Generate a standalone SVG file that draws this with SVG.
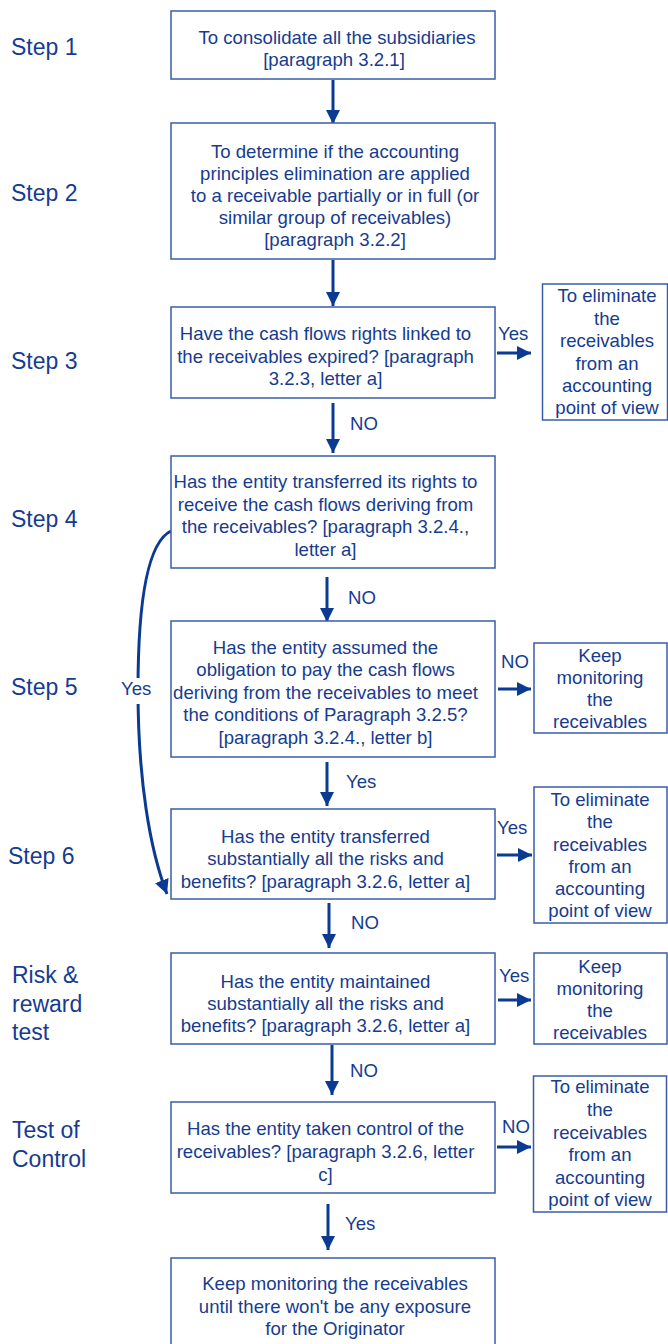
<svg xmlns="http://www.w3.org/2000/svg" width="668" height="1344" viewBox="0 0 668 1344">
<style>
text{font-family:"Liberation Sans",Arial,sans-serif;fill:#163c8f}
.b text,.r text{font-size:18.6px;text-anchor:middle}
.s{font-size:23px}
.l{font-size:18.6px}
rect.n{fill:#fff;stroke:#3a5ca8;stroke-width:1.5}
.c line,.c path{stroke:#0a3a92;stroke-width:3;fill:none}
</style>
<defs>
<marker id="ah" viewBox="0 0 10 10" refX="10" refY="5" markerWidth="4.8" markerHeight="4.8" orient="auto" markerUnits="strokeWidth"><path d="M0,0L10,5L0,10z" fill="#0a3a92"/></marker>
</defs>
<rect width="668" height="1344" fill="#fff"/>
<g id="labels">
<text class="s" x="11" y="55">Step 1</text>
<text class="s" x="11" y="201">Step 2</text>
<text class="s" x="11" y="369">Step 3</text>
<text class="s" x="11" y="527">Step 4</text>
<text class="s" x="11" y="695">Step 5</text>
<text class="s" x="8" y="864">Step 6</text>
<text class="s" x="12" y="983">Risk &amp;</text>
<text class="s" x="12" y="1012">reward</text>
<text class="s" x="12" y="1040">test</text>
<text class="s" x="12" y="1138">Test of</text>
<text class="s" x="12" y="1167">Control</text>
</g>
<g class="c" id="connectors">
<line x1="333" y1="80" x2="333" y2="124" marker-end="url(#ah)"/>
<line x1="333" y1="260" x2="333" y2="306" marker-end="url(#ah)"/>
<line x1="497" y1="353" x2="531" y2="353" marker-end="url(#ah)"/>
<line x1="333" y1="403" x2="333" y2="453" marker-end="url(#ah)"/>
<line x1="327" y1="577" x2="327" y2="622" marker-end="url(#ah)"/>
<line x1="498" y1="689" x2="531" y2="689" marker-end="url(#ah)"/>
<line x1="327" y1="762" x2="327" y2="806" marker-end="url(#ah)"/>
<path d="M171,531 C146,543 138,610 138,690 C138,780 150,850 167,894" marker-end="url(#ah)"/>
<line x1="497" y1="855" x2="532" y2="855" marker-end="url(#ah)"/>
<line x1="329" y1="903" x2="329" y2="948" marker-end="url(#ah)"/>
<line x1="498" y1="1000" x2="531" y2="1000" marker-end="url(#ah)"/>
<line x1="332" y1="1045" x2="332" y2="1095" marker-end="url(#ah)"/>
<line x1="497" y1="1147" x2="531" y2="1147" marker-end="url(#ah)"/>
<line x1="328" y1="1204" x2="328" y2="1250" marker-end="url(#ah)"/>
<rect x="120" y="678" width="36" height="26" fill="#fff"/>
<text class="l" x="121" y="695">Yes</text>
<text class="l" x="498" y="340">Yes</text>
<text class="l" x="350" y="430">NO</text>
<text class="l" x="348" y="604">NO</text>
<text class="l" x="501" y="668">NO</text>
<text class="l" x="346" y="788">Yes</text>
<text class="l" x="497" y="834">Yes</text>
<text class="l" x="351" y="929">NO</text>
<text class="l" x="499" y="982">Yes</text>
<text class="l" x="350" y="1077">NO</text>
<text class="l" x="502" y="1133">NO</text>
<text class="l" x="345" y="1230">Yes</text>
</g>
<g class="b" id="n1"><rect class="n" x="171" y="11" width="324" height="68"/>
<text x="337" y="43.5">To consolidate all the subsidiaries</text>
<text x="334" y="66">[paragraph 3.2.1]</text></g>
<g class="b" id="n2"><rect class="n" x="171" y="123" width="324" height="136"/>
<text x="335" y="158">To determine if the accounting</text>
<text x="335" y="180">principles elimination are applied</text>
<text x="335" y="202">to a receivable partially or in full (or</text>
<text x="335" y="224">similar group of receivables)</text>
<text x="335" y="246">[paragraph 3.2.2]</text></g>
<g class="b" id="n3"><rect class="n" x="171" y="307" width="324" height="91"/>
<text x="325.5" y="340">Have the cash flows rights linked to</text>
<text x="325.5" y="363">the receivables expired? [paragraph</text>
<text x="325.5" y="385">3.2.3, letter a]</text></g>
<g class="r" id="n3y"><rect class="n" x="542.5" y="284" width="125" height="136"/>
<text x="607" y="302">To eliminate</text>
<text x="607" y="325">the</text>
<text x="607" y="347">receivables</text>
<text x="607" y="370">from an</text>
<text x="607" y="392">accounting</text>
<text x="607" y="414">point of view</text></g>
<g class="b" id="n4"><rect class="n" x="171" y="456" width="324" height="112"/>
<text x="325.5" y="488">Has the entity transferred its rights to</text>
<text x="325.5" y="511">receive the cash flows deriving from</text>
<text x="325.5" y="533">the receivables? [paragraph 3.2.4.,</text>
<text x="325.5" y="556">letter a]</text></g>
<g class="b" id="n5"><rect class="n" x="171" y="621" width="324" height="136"/>
<text x="325.5" y="654">Has the entity assumed the</text>
<text x="325.5" y="676">obligation to pay the cash flows</text>
<text x="325.5" y="699">deriving from the receivables to meet</text>
<text x="325.5" y="721">the conditions of Paragraph 3.2.5?</text>
<text x="325.5" y="744">[paragraph 3.2.4., letter b]</text></g>
<g class="r" id="n5n"><rect class="n" x="534" y="643" width="133" height="90"/>
<text x="600" y="662">Keep</text>
<text x="600" y="684">monitoring</text>
<text x="600" y="706">the</text>
<text x="600" y="728">receivables</text></g>
<g class="b" id="n6"><rect class="n" x="171" y="809" width="324" height="90"/>
<text x="325.5" y="843">Has the entity transferred</text>
<text x="325.5" y="865">substantially all the risks and</text>
<text x="325.5" y="888">benefits? [paragraph 3.2.6, letter a]</text></g>
<g class="r" id="n6y"><rect class="n" x="534" y="787" width="133" height="136"/>
<text x="600" y="806">To eliminate</text>
<text x="600" y="828">the</text>
<text x="600" y="851">receivables</text>
<text x="600" y="873">from an</text>
<text x="600" y="895">accounting</text>
<text x="600" y="917">point of view</text></g>
<g class="b" id="n7"><rect class="n" x="171" y="953" width="324" height="91"/>
<text x="325.5" y="988">Has the entity maintained</text>
<text x="325.5" y="1010">substantially all the risks and</text>
<text x="325.5" y="1032">benefits? [paragraph 3.2.6, letter a]</text></g>
<g class="r" id="n7y"><rect class="n" x="534" y="953" width="133" height="91"/>
<text x="600" y="973">Keep</text>
<text x="600" y="995">monitoring</text>
<text x="600" y="1017">the</text>
<text x="600" y="1039">receivables</text></g>
<g class="b" id="n8"><rect class="n" x="171" y="1102" width="324" height="91"/>
<text x="325.5" y="1135">Has the entity taken control of the</text>
<text x="325.5" y="1158">receivables? [paragraph 3.2.6, letter</text>
<text x="325.5" y="1181">c]</text></g>
<g class="r" id="n8n"><rect class="n" x="533.5" y="1076" width="133" height="136"/>
<text x="600" y="1093">To eliminate</text>
<text x="600" y="1116">the</text>
<text x="600" y="1139">receivables</text>
<text x="600" y="1161">from an</text>
<text x="600" y="1184">accounting</text>
<text x="600" y="1206">point of view</text></g>
<g class="b" id="n9"><rect class="n" x="171" y="1258" width="324" height="100"/>
<text x="335" y="1290">Keep monitoring the receivables</text>
<text x="335" y="1313">until there won't be any exposure</text>
<text x="335" y="1335">for the Originator</text></g>
</svg>
